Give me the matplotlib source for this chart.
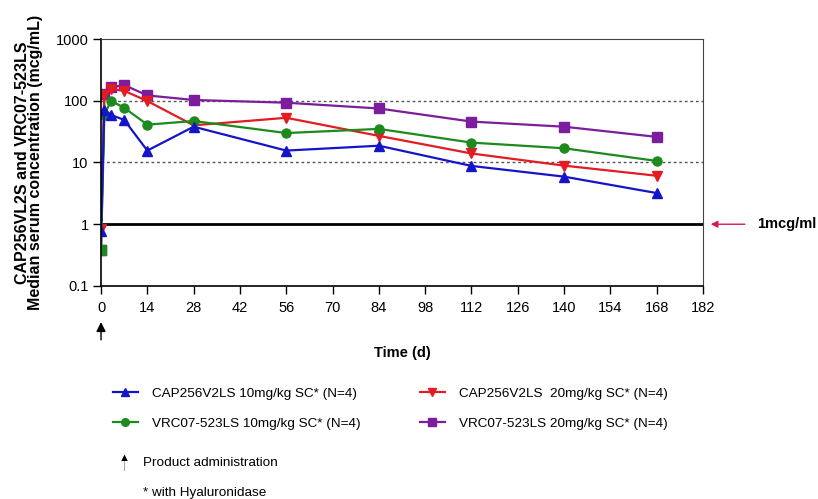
import matplotlib
matplotlib.use("Agg")
import matplotlib.pyplot as plt
from matplotlib.lines import Line2D

plt.rcParams['font.family'] = ['Liberation Sans', 'DejaVu Sans']

# sampling days and median concentrations (mcg/mL)
days = [0, 1, 3, 7, 14, 28, 56, 84, 112, 140, 168]
cap_10 = [0.78, 72, 59, 49, 15.6, 38, 15.6, 18.7, 8.8, 5.9, 3.2]
cap_20 = [0.84, 125, 155, 145, 99, 40, 53, 27, 14, 8.9, 6.1]
vrc_10 = [0.38, 59, 100, 77, 41, 47, 30, 35, 21, 17, 10.6]
vrc_20 = [0.38, 130, 165, 180, 122, 103, 93, 75, 46, 38, 26]

labels = ["CAP256V2LS 10mg/kg SC* (N=4)",
          "VRC07-523LS 10mg/kg SC* (N=4)",
          "CAP256V2LS  20mg/kg SC* (N=4)",
          "VRC07-523LS 20mg/kg SC* (N=4)"]
xticks = list(range(0, 183, 14))
yticks = [0.1, 1, 10, 100, 1000]

blue = '#1515c8'
red = '#e31b23'
green = '#1c8a1c'
purple = '#7b1d9c'

fig = plt.figure(figsize=(8.18, 4.99), dpi=100)
ax = fig.add_axes([0.1235, 0.4269, 0.7359, 0.4949])

ax.axhline(100, color='#555555', ls=(0, (2, 2)), lw=1)
ax.axhline(10, color='#555555', ls=(0, (2, 2)), lw=1)
ax.axhline(1, color='black', lw=2)

ms = 6.5
ax.plot(days, vrc_20, color=purple, marker='s', ms=ms, lw=1.6)
ax.plot(days, cap_20, color=red, marker='v', ms=ms, lw=1.6)
ax.plot(days, vrc_10, color=green, marker='o', ms=ms, lw=1.6)
ax.plot(days, cap_10, color=blue, marker='^', ms=ms, lw=1.6)
# day 0 baseline sample shown as square
ax.plot(days[0], vrc_10[0], marker='s', color=green, ms=ms, ls='none')

ax.set_yscale('log')
ax.set_ylim(0.1, 1000)
ax.set_xlim(0, 182)
ax.set_yticks(yticks)
ax.set_yticklabels(['0.1', '1', '10', '100', '1000'])
ax.minorticks_off()
ax.set_xticks(xticks)
ax.tick_params(direction='out', length=6, width=1, labelsize=10.5, pad=3)
ax.tick_params(axis='x', pad=5)
for s in ['top', 'right']:
    ax.spines[s].set_color('#444444')
    ax.spines[s].set_linewidth(0.8)
for s in ['left', 'bottom']:
    ax.spines[s].set_linewidth(1.2)

ax.set_xlabel('Time (d)', fontsize=10.5, fontweight='bold', labelpad=22)
ax.set_ylabel('CAP256VL2S and VRC07-523LS\nMedian serum concentration (mcg/mL)',
              fontsize=11.5, fontweight='bold', labelpad=9, linespacing=0.85)

# 1 mcg/ml annotation
ax.annotate('', xy=(183.5, 1), xytext=(195.5, 1), xycoords='data', annotation_clip=False,
            arrowprops=dict(arrowstyle='-|>', color='#d81b4a', lw=1, mutation_scale=10))
ax.text(198.3, 1, '1mcg/ml', fontsize=10.5, fontweight='bold', va='center', clip_on=False)

# product administration arrow under day 0
ax.annotate('', xy=(0, 0.026), xytext=(0, 0.0134), xycoords='data', annotation_clip=False,
            arrowprops=dict(arrowstyle='-|>', color='black', lw=1, mutation_scale=14,
                            shrinkA=0, shrinkB=0))

handles = [
    Line2D([], [], color=blue, marker='^', ms=5.5, lw=1.6),
    Line2D([], [], color=green, marker='o', ms=5.5, lw=1.6),
    Line2D([], [], color=red, marker='v', ms=5.5, lw=1.6),
    Line2D([], [], color=purple, marker='s', ms=5.5, lw=1.6),
]
fig.legend(handles, labels, ncol=2, loc='upper left', bbox_to_anchor=(0.132, 0.234),
           frameon=False, fontsize=9.7, handlelength=1.8, handletextpad=1.1,
           columnspacing=4.4, labelspacing=1.3, borderaxespad=0)

fig.add_artist(plt.Line2D([0.1516, 0.1516], [0.058, 0.08], color='#aaaaaa', lw=0.8))
fig.text(0.1516, 0.072, '\u25b2', fontsize=8, ha='center', va='bottom')
fig.text(0.175, 0.072, 'Product administration', fontsize=9.7, va='center')
fig.text(0.175, 0.012, '* with Hyaluronidase', fontsize=9.7, va='center')

fig.savefig('out.png', dpi=100)
